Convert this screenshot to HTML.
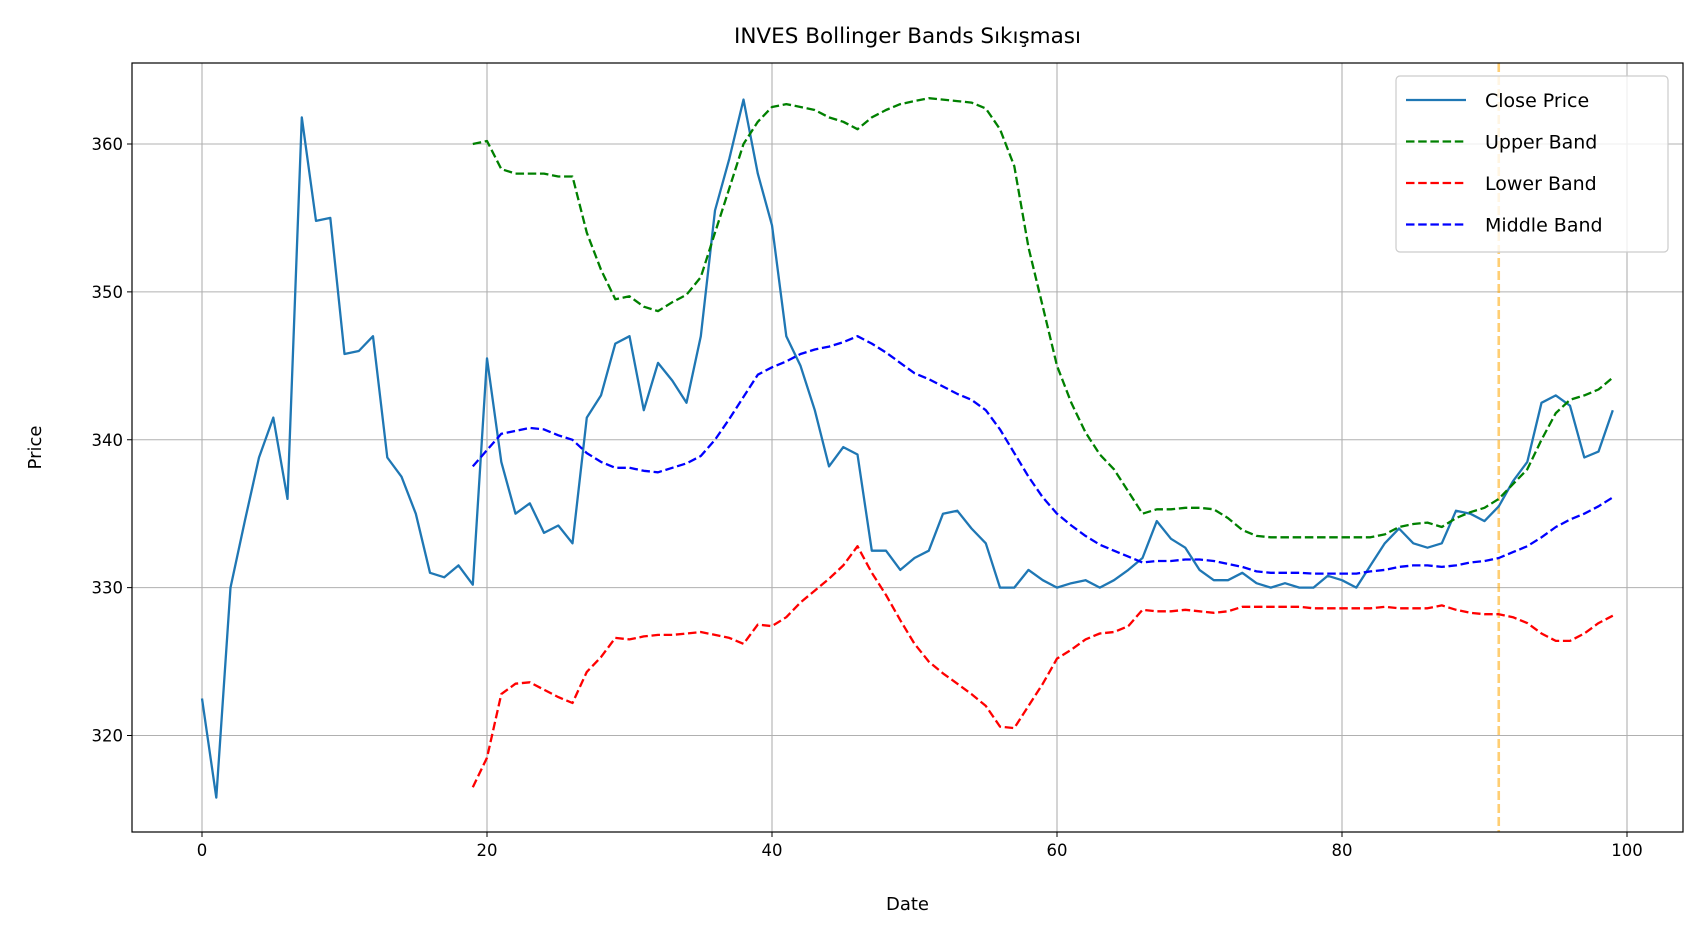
<!DOCTYPE html>
<html><head><meta charset="utf-8"><style>
html,body{margin:0;padding:0;background:#fff;}
svg{display:block;font-family:"DejaVu Sans","Liberation Sans",sans-serif;}
</style></head><body>
<svg id="chart" width="1701" height="939" viewBox="0 0 1701 939"></svg>
<script>
const closeX0 = 0;
const closePrice = [322.5,315.8,330,334.5,338.8,341.5,336,361.8,354.8,355,345.8,346,347,338.8,337.5,335,331,330.7,331.5,330.2,
345.5,338.5,335,335.7,333.7,334.2,333,341.5,343,346.5,347,342,345.2,344,342.5,347,355.5,359,363,358,
354.5,347,345,342,338.2,339.5,339,332.5,332.5,331.2,332,332.5,335,335.2,334,333,330,330,331.2,330.5,
330,330.3,330.5,330,330.5,331.2,332,334.5,333.3,332.7,331.2,330.5,330.5,331,330.3,330,330.3,330,330,330.8,
330.5,330,331.5,333,334,333,332.7,333,335.2,335,334.5,335.5,337.2,338.5,342.5,343,342.3,338.8,339.2,342];
const bandX0 = 19;
const upperBand = [360,360.2,358.3,358,358,358,357.8,357.8,354,351.5,349.5,349.7,349,348.7,349.3,349.8,351,354,357,360,
361.5,362.5,362.7,362.5,362.3,361.8,361.5,361,361.8,362.3,362.7,362.9,363.1,363,362.9,362.8,362.4,361,358.5,353,
349,345,342.5,340.5,339,338,336.5,335,335.3,335.3,335.4,335.4,335.3,334.7,333.9,333.5,333.4,333.4,333.4,333.4,
333.4,333.4,333.4,333.4,333.6,334.1,334.3,334.4,334.1,334.7,335.1,335.4,336,337,338,340,341.8,342.7,343,343.4,344.2];
const lowerBand = [316.5,318.5,322.8,323.5,323.6,323.1,322.6,322.2,324.3,325.3,326.6,326.5,326.7,326.8,326.8,326.9,327,326.8,326.6,326.2,
327.5,327.4,328,329,329.8,330.6,331.5,332.8,331,329.5,327.8,326.2,325,324.2,323.5,322.8,322,320.6,320.5,322,
323.5,325.2,325.8,326.5,326.9,327,327.4,328.5,328.4,328.4,328.5,328.4,328.3,328.4,328.7,328.7,328.7,328.7,328.7,328.6,
328.6,328.6,328.6,328.6,328.7,328.6,328.6,328.6,328.8,328.5,328.3,328.2,328.2,328,327.6,326.9,326.4,326.4,326.9,327.6,328.1];
const middleBand = [338.2,339.3,340.4,340.6,340.8,340.7,340.3,340,339.1,338.5,338.1,338.1,337.9,337.8,338.1,338.4,338.9,340,341.4,342.9,
344.4,344.9,345.3,345.8,346.1,346.3,346.6,347,346.5,345.9,345.2,344.5,344.1,343.6,343.1,342.7,342,340.7,339.1,337.5,
336.1,335,334.2,333.5,332.9,332.5,332.1,331.7,331.8,331.8,331.9,331.9,331.8,331.6,331.4,331.1,331,331,331,330.95,
330.95,330.95,330.95,331.1,331.2,331.4,331.5,331.5,331.4,331.5,331.7,331.8,332,332.4,332.8,333.4,334.1,334.6,335,335.5,336.1];
const squeezeX = 91;
const xTicks = [0,20,40,60,80,100];
const yTicks = [320,330,340,350,360];

const NS="http://www.w3.org/2000/svg";
const svg=document.getElementById('chart');
const L=132,R=1683,T=63,B=832;
const X=v=>202+(v-0)*(1627-202)/100;
const Y=v=>735.5+(v-320)*(144-735.5)/40;
function mk(tag,attrs,parent){const e=document.createElementNS(NS,tag);for(const k in attrs)e.setAttribute(k,attrs[k]);(parent||svg).appendChild(e);return e;}

xTicks.forEach(t=>{
  const g=mk('line',{x1:X(t),x2:X(t),y1:T,y2:B,stroke:'#b0b0b0','stroke-width':1.1});
  
  
  mk('line',{x1:X(t),x2:X(t),y1:B,y2:B+5,stroke:'#000','stroke-width':1});
  const tx=mk('text',{x:X(t),y:B+24,'text-anchor':'middle','font-size':16.5});
  tx.textContent=t;
  
  
});
yTicks.forEach(t=>{
  const g=mk('line',{x1:L,x2:R,y1:Y(t),y2:Y(t),stroke:'#b0b0b0','stroke-width':1.1});
  
  
  mk('line',{x1:L-5,x2:L,y1:Y(t),y2:Y(t),stroke:'#000','stroke-width':1});
  const tx=mk('text',{x:L-9,y:Y(t)+6,'text-anchor':'end','font-size':16.5});
  tx.textContent=t;
  
  
});

function series(arr,x0,color,dash,name){
  const d=arr.map((v,i)=>(i?'L':'M')+X(x0+i).toFixed(1)+','+Y(v).toFixed(1)).join('');
  const p=mk('path',{d:d,fill:'none',stroke:color,'stroke-width':2.3,'stroke-dasharray':dash||'none','stroke-linejoin':'round'});
  
  
}
const vl=mk('line',{x1:X(squeezeX),x2:X(squeezeX),y1:T,y2:B,stroke:'#ffa500','stroke-opacity':0.55,'stroke-width':2.6,'stroke-dasharray':'9,4'});


series(closePrice,closeX0,'#1f77b4',null,'close-price-line');
series(upperBand,bandX0,'#008000','8.5,3.7','upper-band-line');
series(lowerBand,bandX0,'#ff0000','8.5,3.7','lower-band-line');
series(middleBand,bandX0,'#0000ff','8.5,3.7','middle-band-line');

const fr=mk('rect',{x:L,y:T,width:R-L,height:B-T,fill:'none',stroke:'#000','stroke-width':1.2});



const title=mk('text',{x:(L+R)/2,y:43,'text-anchor':'middle','font-size':21.5});
title.textContent='INVES Bollinger Bands Sıkışması';


const xl=mk('text',{x:(L+R)/2,y:910,'text-anchor':'middle','font-size':18});
xl.textContent='Date';


const yl=mk('text',{x:0,y:0,'text-anchor':'middle','font-size':18,transform:'translate(41,'+((T+B)/2)+') rotate(-90)'});
yl.textContent='Price';



const lg=mk('g',{});


mk('rect',{x:1396,y:76,width:272,height:176,rx:4,fill:'#fff','fill-opacity':0.8,stroke:'#ccc','stroke-width':1.2},lg);
const entries=[['Close Price','#1f77b4',null],['Upper Band','#008000','8.5,3.7'],['Lower Band','#ff0000','8.5,3.7'],['Middle Band','#0000ff','8.5,3.7']];
entries.forEach((e,i)=>{
  const yy=100+i*41.5;
  const ln=mk('line',{x1:1406,x2:1466,y1:yy,y2:yy,stroke:e[1],'stroke-width':2.3,'stroke-dasharray':e[2]||'none'},lg);
  
  
  const t=mk('text',{x:1485,y:yy+7,'font-size':19},lg);
  t.textContent=e[0];
  
  
});
</script>
</body></html>
